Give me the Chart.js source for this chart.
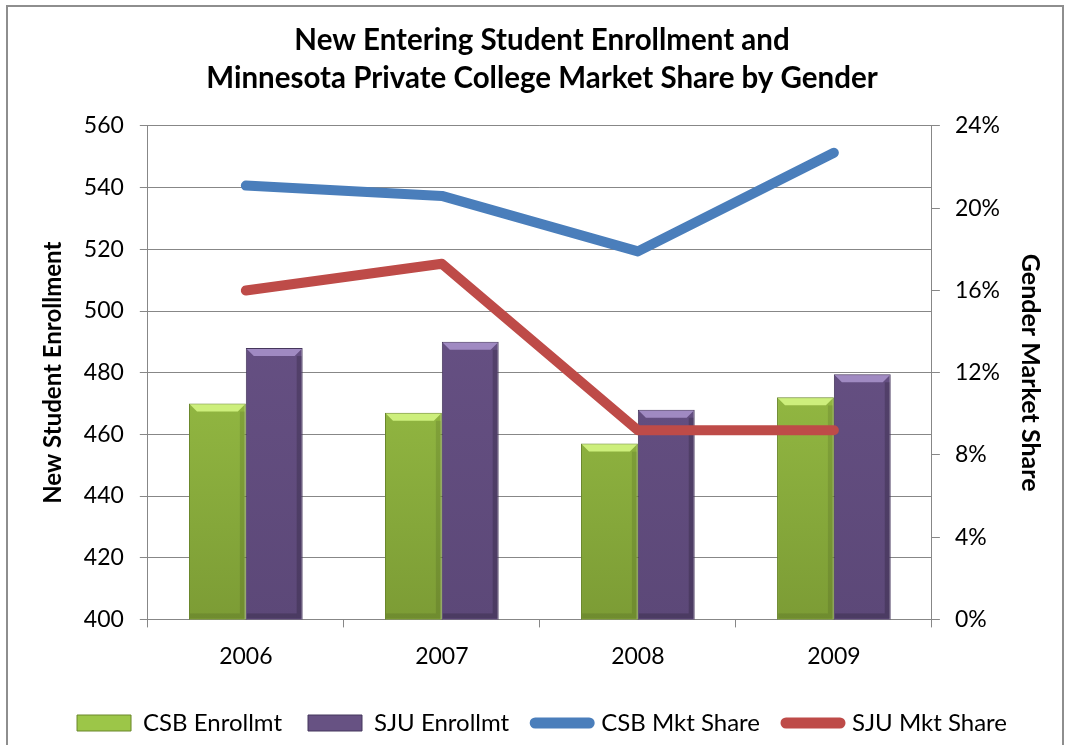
<!DOCTYPE html>
<html>
<head>
<meta charset="utf-8">
<script src="https://cdn.jsdelivr.net/npm/chart.js@4.4.1/dist/chart.umd.min.js"></script>
<style>
    html, body { margin: 0; padding: 0; background: #fff; overflow: hidden; }
    #wrap { position: relative; width: 1066px; height: 745px; }
    #frame { position: absolute; left: 6px; top: 5px; width: 1054px; height: 800px; border: 2px solid #8e8e8e; pointer-events: none; }
    canvas { position: absolute; left: 0; top: 0; }
</style>
</head>
<body>
<div id="wrap">
    <canvas id="grafico" width="1066" height="745"></canvas>
    <div id="frame"></div>
</div>
<script>
const anos = ['2006', '2007', '2008', '2009'];
const csbMatricula = [470, 467, 457, 472];
const sjuMatricula = [488, 490, 468, 479.5];
const csbMercado = [21.1, 20.6, 17.9, 22.7];
const sjuMercado = [16.0, 17.3, 9.2, 9.2];
const ticksEsq = [400, 420, 440, 460, 480, 500, 520, 540, 560];
const ticksDir = [0, 4, 8, 12, 16, 20, 24];

const fonte = 'Lato, "Open Sans", sans-serif';
const cinza = '#878787';

const coresBarra = {
    csb: { topo: '#abd650', base: '#7c9c35', bisel: '#cdef7c', borda: '#6a872b', lado: 'rgba(0,0,0,0.10)', legenda: '#9cc648' },
    sju: { topo: '#6c558a', base: '#5c4878', bisel: '#a08ac2', borda: '#45365c', lado: 'rgba(0,0,0,0.18)', legenda: '#675283' }
};

function gradiente(ctx, area, c) {
    const g = ctx.createLinearGradient(0, area.top, 0, area.bottom);
    g.addColorStop(0, c.topo);
    g.addColorStop(1, c.base);
    return g;
}

// bisel no topo e sombra lateral, desenhado sobre cada barra
const bisel = {
    id: 'bisel',
    afterDatasetDraw(chart, args) {
        const ds = chart.data.datasets[args.index];
        if (ds.type !== 'bar') return;
        const c = coresBarra[ds.chave];
        const ctx = chart.ctx;
        const fundo = chart.chartArea.bottom;
        ctx.save();
        args.meta.data.forEach(el => {
            const { x, y, width } = el.getProps(['x', 'y', 'width'], true);
            const l = x - width / 2, r = x + width / 2, b = 8;
            ctx.fillStyle = c.bisel;
            ctx.beginPath();
            ctx.moveTo(l + 1, y + 1);
            ctx.lineTo(r - 1, y + 1);
            ctx.lineTo(r - b, y + b);
            ctx.lineTo(l + b, y + b);
            ctx.closePath();
            ctx.fill();
            ctx.fillStyle = c.lado;
            ctx.fillRect(r - 6, y + b, 5, fundo - y - b - 1);
            ctx.fillRect(l + 1, fundo - 6, width - 7, 5);
        });
        ctx.restore();
    }
};

const ctx = document.getElementById('grafico').getContext('2d');
new Chart(ctx, {
    data: {
        labels: anos,
        datasets: [
            {
                type: 'bar', label: 'CSB Enrollmt', chave: 'csb', data: csbMatricula, yAxisID: 'y', order: 2,
                backgroundColor: c => c.chart.chartArea ? gradiente(c.chart.ctx, c.chart.chartArea, coresBarra.csb) : coresBarra.csb.topo,
                borderColor: coresBarra.csb.borda, borderWidth: 1,
                categoryPercentage: 0.58, barPercentage: 1.0
            },
            {
                type: 'bar', label: 'SJU Enrollmt', chave: 'sju', data: sjuMatricula, yAxisID: 'y', order: 2,
                backgroundColor: c => c.chart.chartArea ? gradiente(c.chart.ctx, c.chart.chartArea, coresBarra.sju) : coresBarra.sju.topo,
                borderColor: coresBarra.sju.borda, borderWidth: 1,
                categoryPercentage: 0.58, barPercentage: 1.0
            },
            {
                type: 'line', label: 'CSB Mkt Share', data: csbMercado, yAxisID: 'y1', order: 1,
                borderColor: '#4a7ebb', borderWidth: 10, pointRadius: 0,
                borderCapStyle: 'round', borderJoinStyle: 'round', tension: 0
            },
            {
                type: 'line', label: 'SJU Mkt Share', data: sjuMercado, yAxisID: 'y1', order: 0,
                borderColor: '#be4b48', borderWidth: 10, pointRadius: 0,
                borderCapStyle: 'round', borderJoinStyle: 'round', tension: 0
            }
        ]
    },
    options: {
        responsive: false,
        animation: false,
        layout: { padding: { left: 35, right: 17, top: 10, bottom: 0 } },
        plugins: {
            title: {
                display: true,
                text: ['New Entering Student Enrollment and', 'Minnesota Private College Market Share by Gender'],
                font: { family: fonte, size: 29.5, weight: 'bold', lineHeight: 1.288 },
                color: '#000',
                padding: { top: 11, bottom: 29 }
            },
            legend: {
                position: 'bottom',
                labels: {
                    font: { family: fonte, size: 24 },
                    color: '#000',
                    usePointStyle: true,
                    pointStyleWidth: 54,
                    boxHeight: 16,
                    padding: 26,
                    generateLabels(chart) {
                        return chart.data.datasets.map((ds, i) => {
                            const barra = ds.type === 'bar';
                            return {
                                text: ds.label,
                                datasetIndex: i,
                                pointStyle: barra ? 'rect' : 'line',
                                fillStyle: barra ? coresBarra[ds.chave].legenda : ds.borderColor,
                                strokeStyle: barra ? coresBarra[ds.chave].borda : ds.borderColor,
                                lineWidth: barra ? 1 : 11,
                                lineCap: barra ? 'butt' : 'round',
                                fontColor: '#000'
                            };
                        });
                    }
                }
            },
            tooltip: { enabled: false }
        },
        scales: {
            x: {
                grid: { display: true, drawOnChartArea: false, drawTicks: true, tickLength: 8, color: cinza, offset: true },
                border: { display: true, color: cinza },
                ticks: { font: { family: fonte, size: 23 }, color: '#000', padding: 15 }
            },
            y: {
                position: 'left',
                min: 400, max: 560,
                afterBuildTicks: axis => { axis.ticks = ticksEsq.map(v => ({ value: v })); },
                grid: { color: cinza, tickLength: 8 },
                border: { display: true, color: cinza },
                ticks: { font: { family: fonte, size: 23 }, color: '#000', padding: 16 },
                title: {
                    display: true, text: 'New Student Enrollment',
                    font: { family: fonte, size: 24, weight: 'bold' }, color: '#000', padding: { top: 4, bottom: 0 }
                }
            },
            y1: {
                position: 'right',
                min: 0, max: 24,
                afterBuildTicks: axis => { axis.ticks = ticksDir.map(v => ({ value: v })); },
                grid: { drawOnChartArea: false, color: cinza, tickLength: 8 },
                border: { display: true, color: cinza },
                ticks: { font: { family: fonte, size: 23 }, color: '#000', padding: 15, callback: v => v + '%' },
                title: {
                    display: true, text: 'Gender Market Share',
                    font: { family: fonte, size: 25, weight: 'bold' }, color: '#000', padding: { top: 4, bottom: 0 }
                }
            }
        }
    },
    plugins: [bisel]
});
</script>
</body>
</html>
